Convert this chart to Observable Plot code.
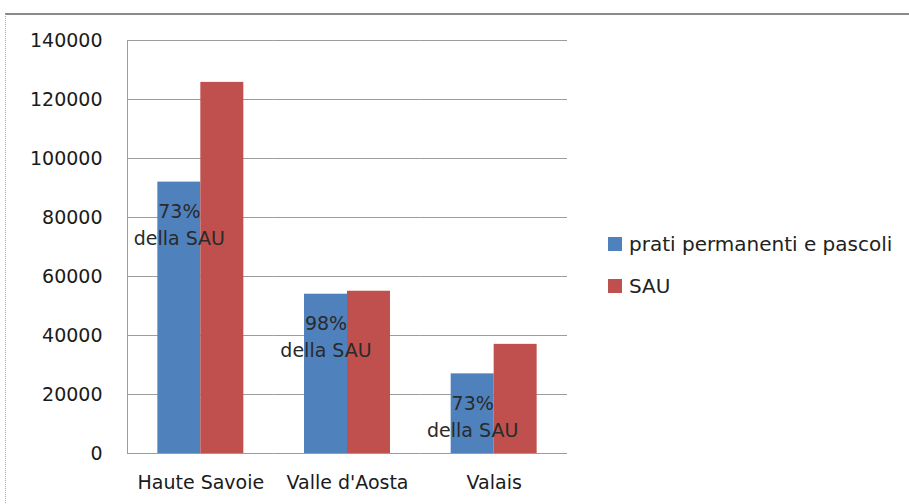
<!DOCTYPE html>
<html>
<head>
<meta charset="utf-8">
<script src="https://cdn.jsdelivr.net/npm/d3@7"></script>
<script src="https://cdn.jsdelivr.net/npm/@observablehq/plot@0.6"></script>
<style>
  html, body { margin: 0; padding: 0; background: #fff; overflow: hidden; }
  #wrap { position: relative; width: 909px; height: 504px; font-family: "DejaVu Sans", sans-serif; }
  #outer { position: absolute; left: 5px; top: 13px; width: 1000px; height: 1000px;
           border-top: 2px solid #8a8a8a; border-left: 1px dotted #a8a8a8; }
  #chart { position: absolute; left: 0; top: 0; }
  .leg { position: absolute; font-size: 20px; line-height: 20px; color: #222; white-space: nowrap; }
  .sw { position: absolute; width: 14px; height: 14px; }
</style>
</head>
<body>
<div id="wrap">
  <div id="outer"></div>
  <div id="chart"></div>
  <div id="legend"></div>
</div>
<script>
const regions = ["Haute Savoie", "Valle d'Aosta", "Valais"];
const series = ["prati permanenti e pascoli", "SAU"];
const colors = ["#4F81BD", "#C0504D"];
const pratiValues = [92000, 54000, 27000];
const sauValues = [125800, 55000, 37000];
const pctLabels = ["73%", "98%", "73%"];
const yTicks = [0, 20000, 40000, 60000, 80000, 100000, 120000, 140000];

const rows = [];
regions.forEach((r, i) => {
  rows.push({region: r, series: series[0], value: pratiValues[i]});
  rows.push({region: r, series: series[1], value: sauValues[i]});
});
const labelRows = regions.map((r, i) => ({region: r, series: series[0], value: pratiValues[i], text: pctLabels[i] + "\ndella SAU"}));

const chart = Plot.plot({
  width: 909,
  height: 504,
  marginLeft: 127,
  marginRight: 342,
  marginTop: 40,
  marginBottom: 51,
  style: {fontFamily: "DejaVu Sans", fontSize: "19px", color: "#222", background: "transparent", overflow: "visible"},
  fx: {domain: regions, padding: 0, round: false, label: null},
  x: {domain: series, paddingInner: 0, paddingOuter: 0.706, round: false, axis: null},
  y: {domain: [0, 140000], label: null},
  color: {domain: series, range: colors},
  marks: [
    Plot.ruleY(yTicks, {stroke: "#9c9c9c", strokeWidth: 1}),
    Plot.frame({anchor: "left", stroke: "#9c9c9c", facetAnchor: "left"}),
    Plot.barY(rows, {fx: "region", x: "series", y: "value", fill: "series"}),
    Plot.text(labelRows, {fx: "region", x: "series", y: "value", text: "text", dy: 41,
      lineAnchor: "middle", lineHeight: 1.42, fontSize: 19, fill: "#2a2a2a"}),
    Plot.axisY({ticks: yTicks, tickSize: 0, tickPadding: 25, tickFormat: d3.format("d"), fontSize: 19, label: null, fill: "#1a1a1a"}),
    Plot.axisFx({anchor: "bottom", tickSize: 0, tickPadding: 22, fontSize: 19, label: null, fill: "#1a1a1a"})
  ]
});
document.getElementById("chart").appendChild(chart);

const legend = document.getElementById("legend");
const legTops = [234, 276];
const swTops = [237, 279];
series.forEach((s, i) => {
  const sw = document.createElement("div");
  sw.className = "sw";
  sw.style.left = "608px";
  sw.style.top = swTops[i] + "px";
  sw.style.background = colors[i];
  legend.appendChild(sw);
  const t = document.createElement("div");
  t.className = "leg";
  t.style.left = "629px";
  t.style.top = legTops[i] + "px";
  t.textContent = s;
  legend.appendChild(t);
});
</script>
</body>
</html>
